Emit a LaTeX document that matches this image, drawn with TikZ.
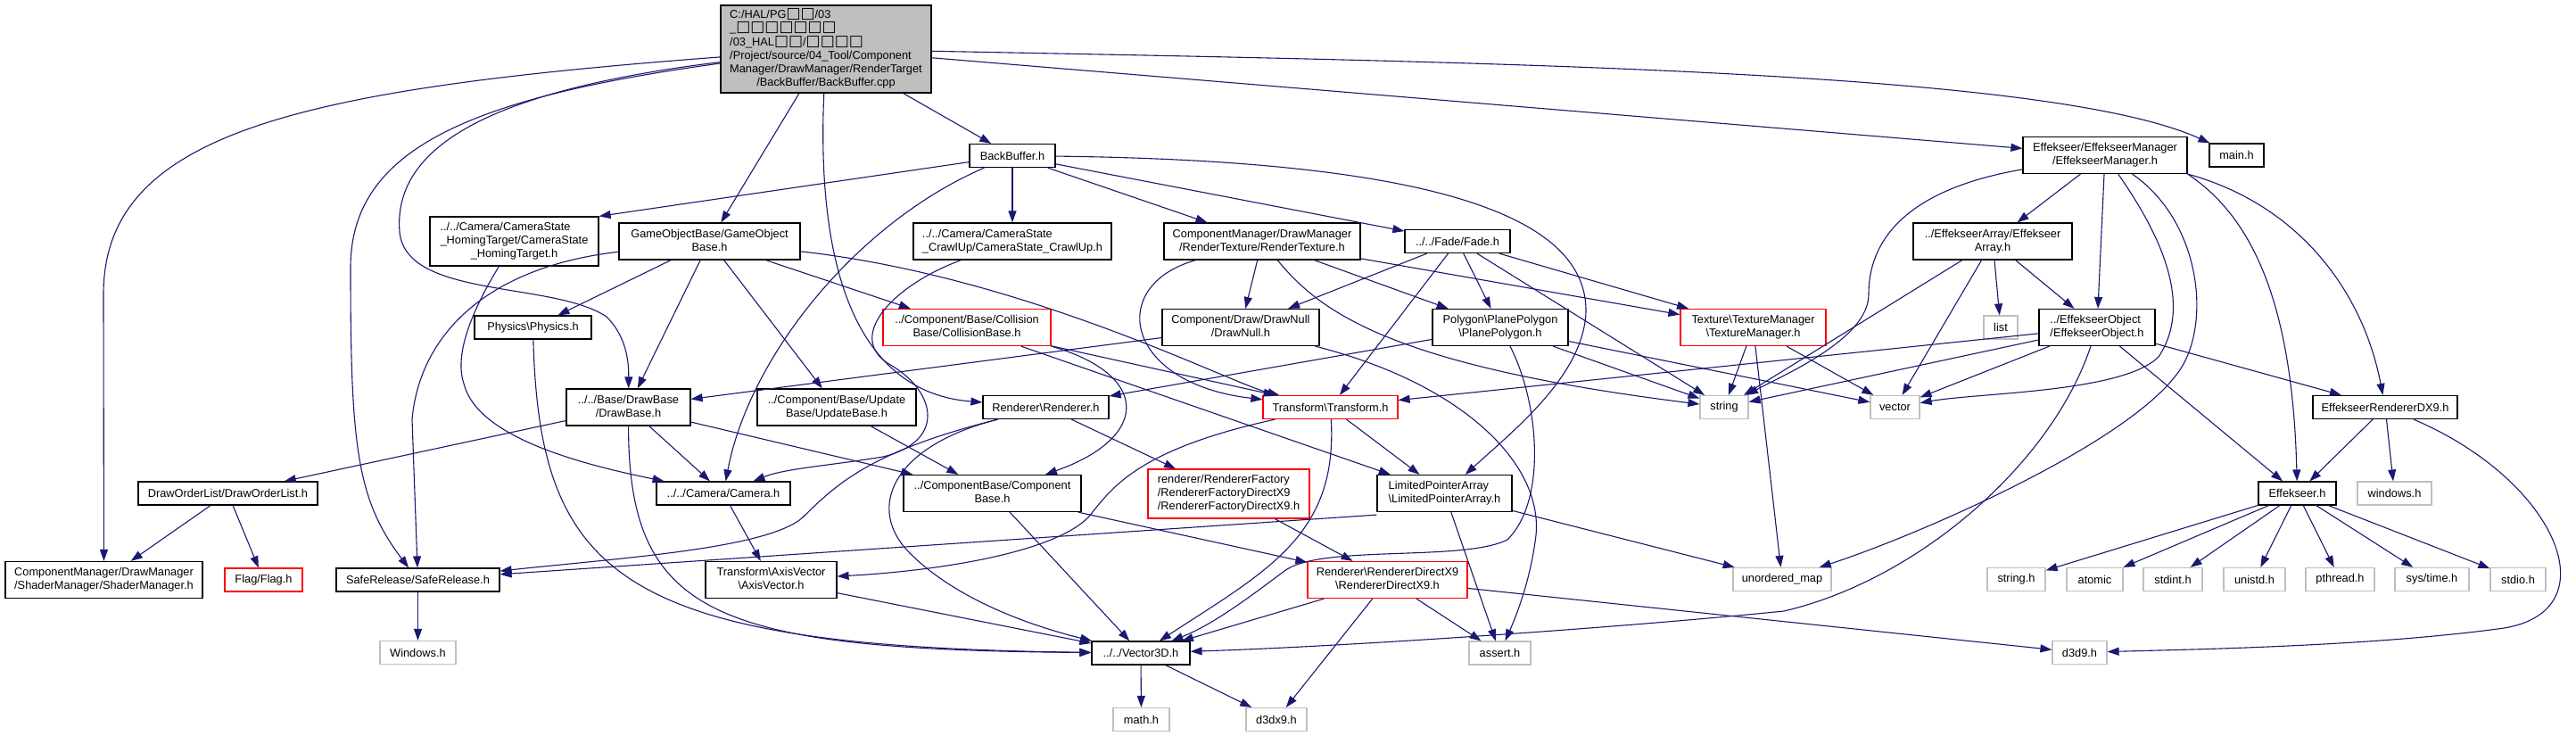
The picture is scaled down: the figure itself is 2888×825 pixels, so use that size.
\documentclass[tikz,border=0pt]{standalone}
\usepackage{fontspec}
\setmainfont{Liberation Sans}
\newfontfamily\tofufont{DejaVu Sans}
\usetikzlibrary{arrows.meta}
\definecolor{edgeblue}{HTML}{191970}
\newcommand{\tofu}{{\tofufont\fontsize{8.5}{7.5}\selectfont □}}
\newcommand{\hdrtext}[2]{\begin{tabular}{@{}l@{}}#1\\\multicolumn{1}{@{}c@{}}{#2}\end{tabular}}

\begin{document}
\begin{tikzpicture}[x=0.5pt, y=-0.5pt, every node/.style={font=\fontsize{6.4}{7.5}\selectfont}, >={Triangle[length=6.5pt,width=4.5pt]}, hdr/.style={draw, line width=0.6pt, fill=white, inner sep=0pt}, trunc/.style={hdr, draw=red}, sys/.style={hdr, draw=gray!50}, sz/.style 2 args={minimum width=#1*0.5pt, minimum height=#2*0.5pt}, dep/.style={->, draw=edgeblue, line width=0.55pt}]
	\path[fill=white, use as bounding box] (0,0) rectangle (2888,825);
	
	\node[hdr, fill=gray!50, sz={236}{98}] (root) at (926,55) {\hdrtext{C:/HAL/PG\tofu\tofu/03\\\_\tofu\tofu\tofu\tofu\tofu\tofu\tofu\\/03\_HAL\tofu\tofu/\tofu\tofu\tofu\tofu\\/Project/source/04\_Tool/Component\\Manager/DrawManager/RenderTarget}{/BackBuffer/BackBuffer.cpp}};
	\node[hdr, sz={96}{26}] (backbuf) at (1135,174.5) {BackBuffer.h};
	\node[hdr, sz={184}{41}] (effmgr) at (2360,174) {\hdrtext{Effekseer/EffekseerManager}{/EffekseerManager.h}};
	\node[hdr, sz={61}{26}] (mainh) at (2507.5,174) {main.h};
	
	\node[hdr, sz={189}{55}] (homing) at (576.5,270.5) {\hdrtext{../../Camera/CameraState\\\_HomingTarget/CameraState}{\_HomingTarget.h}};
	\node[hdr, sz={203}{41}] (gobase) at (795.5,270.5) {\hdrtext{GameObjectBase/GameObject}{Base.h}};
	\node[hdr, sz={222}{41}] (crawl) at (1135,270.5) {\hdrtext{../../Camera/CameraState}{\_CrawlUp/CameraState\_CrawlUp.h}};
	\node[hdr, sz={220}{41}] (rtex) at (1415,270.5) {\hdrtext{ComponentManager/DrawManager}{/RenderTexture/RenderTexture.h}};
	\node[hdr, sz={118}{26}] (fade) at (1634,270.5) {../../Fade/Fade.h};
	\node[hdr, sz={178}{41}] (effarr) at (2234,270.5) {\hdrtext{../EffekseerArray/Effekseer}{Array.h}};
	
	\node[hdr, sz={131}{26}] (physics) at (597.5,367) {Physics\textbackslash{}Physics.h};
	\node[trunc, sz={188}{41}] (collision) at (1084,367) {\hdrtext{../Component/Base/Collision}{Base/CollisionBase.h}};
	\node[hdr, sz={176}{41}] (drawnull) at (1391,367) {\hdrtext{Component/Draw/DrawNull}{/DrawNull.h}};
	\node[hdr, sz={152}{41}] (plane) at (1682,367) {\hdrtext{Polygon\textbackslash{}PlanePolygon}{\textbackslash{}PlanePolygon.h}};
	\node[trunc, sz={163}{41}] (texmgr) at (1965.5,367) {\hdrtext{Texture\textbackslash{}TextureManager}{\textbackslash{}TextureManager.h}};
	\node[sys, sz={38}{26}] (list) at (2243,367) {list};
	\node[hdr, sz={130}{41}] (effobj) at (2351,367) {\hdrtext{../EffekseerObject}{/EffekseerObject.h}};
	
	\node[hdr, sz={139}{41}] (drawbase) at (704.5,456.5) {\hdrtext{../../Base/DrawBase}{/DrawBase.h}};
	\node[hdr, sz={178}{41}] (update) at (938,456.5) {\hdrtext{../Component/Base/Update}{Base/UpdateBase.h}};
	\node[hdr, sz={141}{26}] (renderer) at (1172.5,456.5) {Renderer\textbackslash{}Renderer.h};
	\node[trunc, sz={151}{26}] (transform) at (1491.5,456.5) {Transform\textbackslash{}Transform.h};
	\node[sys, sz={54}{26}] (string) at (1933,456.5) {string};
	\node[sys, sz={55}{26}] (vector) at (2124.5,456.5) {vector};
	\node[hdr, sz={162}{26}] (effdx9) at (2674,456.5) {EffekseerRendererDX9.h};
	
	\node[hdr, sz={201}{26}] (draworder) at (255.5,553) {DrawOrderList/DrawOrderList.h};
	\node[hdr, sz={150}{26}] (camera) at (811,553) {../../Camera/Camera.h};
	\node[hdr, sz={199}{41}] (compbase) at (1112.5,553) {\hdrtext{../ComponentBase/Component}{Base.h}};
	\node[trunc, sz={181}{55}] (rfactory) at (1377.5,553.5) {\hdrtext{renderer/RendererFactory\\/RendererFactoryDirectX9}{/RendererFactoryDirectX9.h}};
	\node[hdr, sz={151}{41}] (limited) at (1619.5,553) {\hdrtext{LimitedPointerArray}{\textbackslash{}LimitedPointerArray.h}};
	\node[hdr, sz={87}{26}] (effekseerh) at (2575.5,553) {Effekseer.h};
	\node[sys, sz={83}{26}] (windowsl) at (2684.5,553) {windows.h};
	
	\node[hdr, sz={221}{41}] (shader) at (116.5,650) {\hdrtext{ComponentManager/DrawManager}{/ShaderManager/ShaderManager.h}};
	\node[trunc, sz={87}{26}] (flag) at (295.5,650) {Flag/Flag.h};
	\node[hdr, sz={183}{26}] (safe) at (468.5,650) {SafeRelease/SafeRelease.h};
	\node[hdr, sz={147}{41}] (axis) at (864.5,650) {\hdrtext{Transform\textbackslash{}AxisVector}{\textbackslash{}AxisVector.h}};
	\node[trunc, sz={179}{41}] (rdx9) at (1555.5,650) {\hdrtext{Renderer\textbackslash{}RendererDirectX9}{\textbackslash{}RendererDirectX9.h}};
	\node[sys, sz={110}{26}] (umap) at (1998,649.5) {unordered\_map};
	\node[sys, sz={65}{26}] (stringh) at (2260.5,649.5) {string.h};
	\node[sys, sz={63}{26}] (atomic) at (2348.5,649.5) {atomic};
	\node[sys, sz={66}{26}] (stdint) at (2436,649.5) {stdint.h};
	\node[sys, sz={69}{26}] (unistd) at (2527.5,649.5) {unistd.h};
	\node[sys, sz={77}{26}] (pthread) at (2623.5,649.5) {pthread.h};
	\node[sys, sz={83}{26}] (systime) at (2726.5,649.5) {sys/time.h};
	\node[sys, sz={62}{26}] (stdio) at (2823,649.5) {stdio.h};
	
	\node[sys, sz={85}{26}] (winh) at (468.5,731.5) {Windows.h};
	\node[hdr, sz={110}{26}] (vector3d) at (1279,732) {../../Vector3D.h};
	\node[sys, sz={69}{26}] (asserth) at (1681.5,732) {assert.h};
	\node[sys, sz={61}{26}] (d3d9) at (2331.5,731.5) {d3d9.h};
	\node[sys, sz={63}{26}] (math) at (1279.5,806.5) {math.h};
	\node[sys, sz={68}{26}] (d3dx9) at (1431,806.5) {d3dx9.h};
	
	\draw[dep] (root) .. controls (330,100) and (116,150) .. (116,330) -- (shader);
	\draw[dep] (root) .. controls (520,110) and (393,170) .. (393,300) .. controls (393,500) and (400,560) .. (safe);
	\draw[dep] (root) .. controls (560,100) and (440,160) .. (448,260) .. controls (455,335) and (620,315) .. (680,355) .. controls (700,375) and (705,400) .. (drawbase);
	\draw[dep] (root) -- (gobase);
	\draw[dep] (root) .. controls (915,300) and (960,440) .. (renderer);
	\draw[dep] (root) -- (backbuf);
	\draw[dep] (root) -- (effmgr);
	\draw[dep] (root) .. controls (1700,70) and (2300,80) .. (mainh);
	
	\draw[dep] (backbuf) -- (homing.north east);
	\draw[dep] (backbuf) .. controls (960,250) and (840,400) .. (camera);
	\draw[dep] (backbuf) -- (crawl);
	\draw[dep] (backbuf) -- (rtex);
	\draw[dep] (backbuf) -- (fade);
	\draw[dep] (backbuf) .. controls (1600,180) and (1780,240) .. (1778,350) .. controls (1775,420) and (1700,480) .. (limited);
	
	\draw[dep] (gobase) .. controls (540,300) and (470,380) .. (462,470) -- (safe);
	\draw[dep] (gobase) -- (physics);
	\draw[dep] (gobase) -- (drawbase);
	\draw[dep] (gobase) -- (update);
	\draw[dep] (gobase) -- (collision);
	\draw[dep] (gobase) .. controls (1150,310) and (1380,430) .. (transform);
	\draw[dep] (homing) .. controls (525,355) and (510,400) .. (520,430) .. controls (535,490) and (650,520) .. (camera);
	\draw[dep] (physics) .. controls (605,650) and (700,725) .. (vector3d);
	\draw[dep] (crawl) .. controls (1000,320) and (945,380) .. (1000,410) .. controls (1050,440) and (1060,495) .. (990,512) .. controls (930,522) and (880,525) .. (camera);
	
	\draw[dep] (rtex) -- (drawnull);
	\draw[dep] (rtex) .. controls (1240,320) and (1260,430) .. (transform);
	\draw[dep] (rtex) -- (plane);
	\draw[dep] (rtex) .. controls (1480,350) and (1560,410) .. (string);
	\draw[dep] (rtex) -- (texmgr);
	\draw[dep] (fade) -- (drawnull);
	\draw[dep] (fade) -- (transform);
	\draw[dep] (fade) -- (plane);
	\draw[dep] (fade) -- (string);
	\draw[dep] (fade) -- (texmgr);
	
	\draw[dep] (collision) -- (transform);
	\draw[dep] (collision) -- (limited);
	\draw[dep] (collision.south east) .. controls (1290,420) and (1290,490) .. (compbase);
	\draw[dep] (drawnull) -- (drawbase);
	\draw[dep] (drawnull) .. controls (1640,430) and (1730,520) .. (1722,600) .. controls (1716,650) and (1700,690) .. (asserth);
	\draw[dep] (plane) -- (renderer);
	\draw[dep] (plane) -- (string);
	\draw[dep] (plane) -- (vector);
	\draw[dep] (plane) .. controls (1725,450) and (1735,560) .. (1690,605) .. controls (1640,630) and (1480,610) .. (1440,640) .. controls (1400,670) and (1360,700) .. (vector3d);
	\draw[dep] (texmgr) -- (string);
	\draw[dep] (texmgr) -- (umap);
	\draw[dep] (texmgr) -- (vector);
	
	\draw[dep] (effmgr) .. controls (2150,210) and (2095,260) .. (2095,330) .. controls (2095,380) and (2000,420) .. (string);
	\draw[dep] (effmgr) -- (effarr);
	\draw[dep] (effmgr) -- (effobj);
	\draw[dep] (effmgr) .. controls (2420,260) and (2460,340) .. (2420,400) .. controls (2380,440) and (2220,440) .. (vector);
	\draw[dep] (effmgr) .. controls (2470,250) and (2480,370) .. (2440,420) .. controls (2380,500) and (2150,600) .. (umap);
	\draw[dep] (effmgr.south east) .. controls (2520,240) and (2570,330) .. (effekseerh);
	\draw[dep] (effmgr.south east) .. controls (2580,230) and (2650,330) .. (effdx9);
	\draw[dep] (effarr) -- (string);
	\draw[dep] (effarr) -- (vector);
	\draw[dep] (effarr) -- (list);
	\draw[dep] (effarr) -- (effobj);
	\draw[dep] (effobj) -- (string);
	\draw[dep] (effobj) -- (transform);
	\draw[dep] (effobj) -- (vector);
	\draw[dep] (effobj) .. controls (2300,520) and (2150,650) .. (2000,685) .. controls (1800,705) and (1500,725) .. (vector3d);
	\draw[dep] (effobj) -- (effekseerh);
	\draw[dep] (effobj) -- (effdx9);
	\draw[dep] (effdx9) -- (effekseerh);
	\draw[dep] (effdx9) -- (windowsl);
	\draw[dep] (effdx9) .. controls (2870,540) and (2930,690) .. (2800,705) .. controls (2650,725) and (2450,728) .. (d3d9);
	\draw[dep] (effekseerh) -- (stringh);
	\draw[dep] (effekseerh) -- (atomic);
	\draw[dep] (effekseerh) -- (stdint);
	\draw[dep] (effekseerh) -- (unistd);
	\draw[dep] (effekseerh) -- (pthread);
	\draw[dep] (effekseerh) -- (systime);
	\draw[dep] (effekseerh) -- (stdio);
	
	\draw[dep] (drawbase) -- (draworder);
	\draw[dep] (drawbase) -- (camera);
	\draw[dep] (drawbase) -- (compbase);
	\draw[dep] (drawbase) .. controls (705,690) and (800,728) .. (vector3d);
	\draw[dep] (update) -- (compbase);
	\draw[dep] (renderer) -- (rfactory);
	\draw[dep] (renderer) .. controls (980,505) and (940,540) .. (900,580) .. controls (860,615) and (700,625) .. (safe);
	\draw[dep] (renderer) .. controls (1000,500) and (970,570) .. (1020,620) .. controls (1070,670) and (1150,700) .. (vector3d);
	\draw[dep] (transform) .. controls (1270,505) and (1245,550) .. (1220,580) .. controls (1180,620) and (1050,640) .. (axis);
	\draw[dep] (transform) .. controls (1500,600) and (1420,640) .. (vector3d);
	\draw[dep] (transform) -- (limited);
	
	\draw[dep] (draworder) -- (shader);
	\draw[dep] (draworder) -- (flag);
	\draw[dep] (camera) -- (axis);
	\draw[dep] (compbase) -- (vector3d);
	\draw[dep] (compbase) -- (rdx9);
	\draw[dep] (rfactory) -- (rdx9);
	\draw[dep] ([yshift=-1.5pt]limited.south west) -- (safe);
	\draw[dep] (limited) -- (asserth);
	\draw[dep] (limited) -- (umap);
	\draw[dep] (safe) -- (winh);
	\draw[dep] (axis) -- (vector3d);
	\draw[dep] (rdx9) -- (vector3d);
	\draw[dep] (rdx9) -- (d3dx9);
	\draw[dep] (rdx9) -- (asserth);
	\draw[dep] (rdx9) -- (d3d9);
	\draw[dep] (vector3d) -- (math);
	\draw[dep] (vector3d) -- (d3dx9);
	
\end{tikzpicture}
\end{document}
